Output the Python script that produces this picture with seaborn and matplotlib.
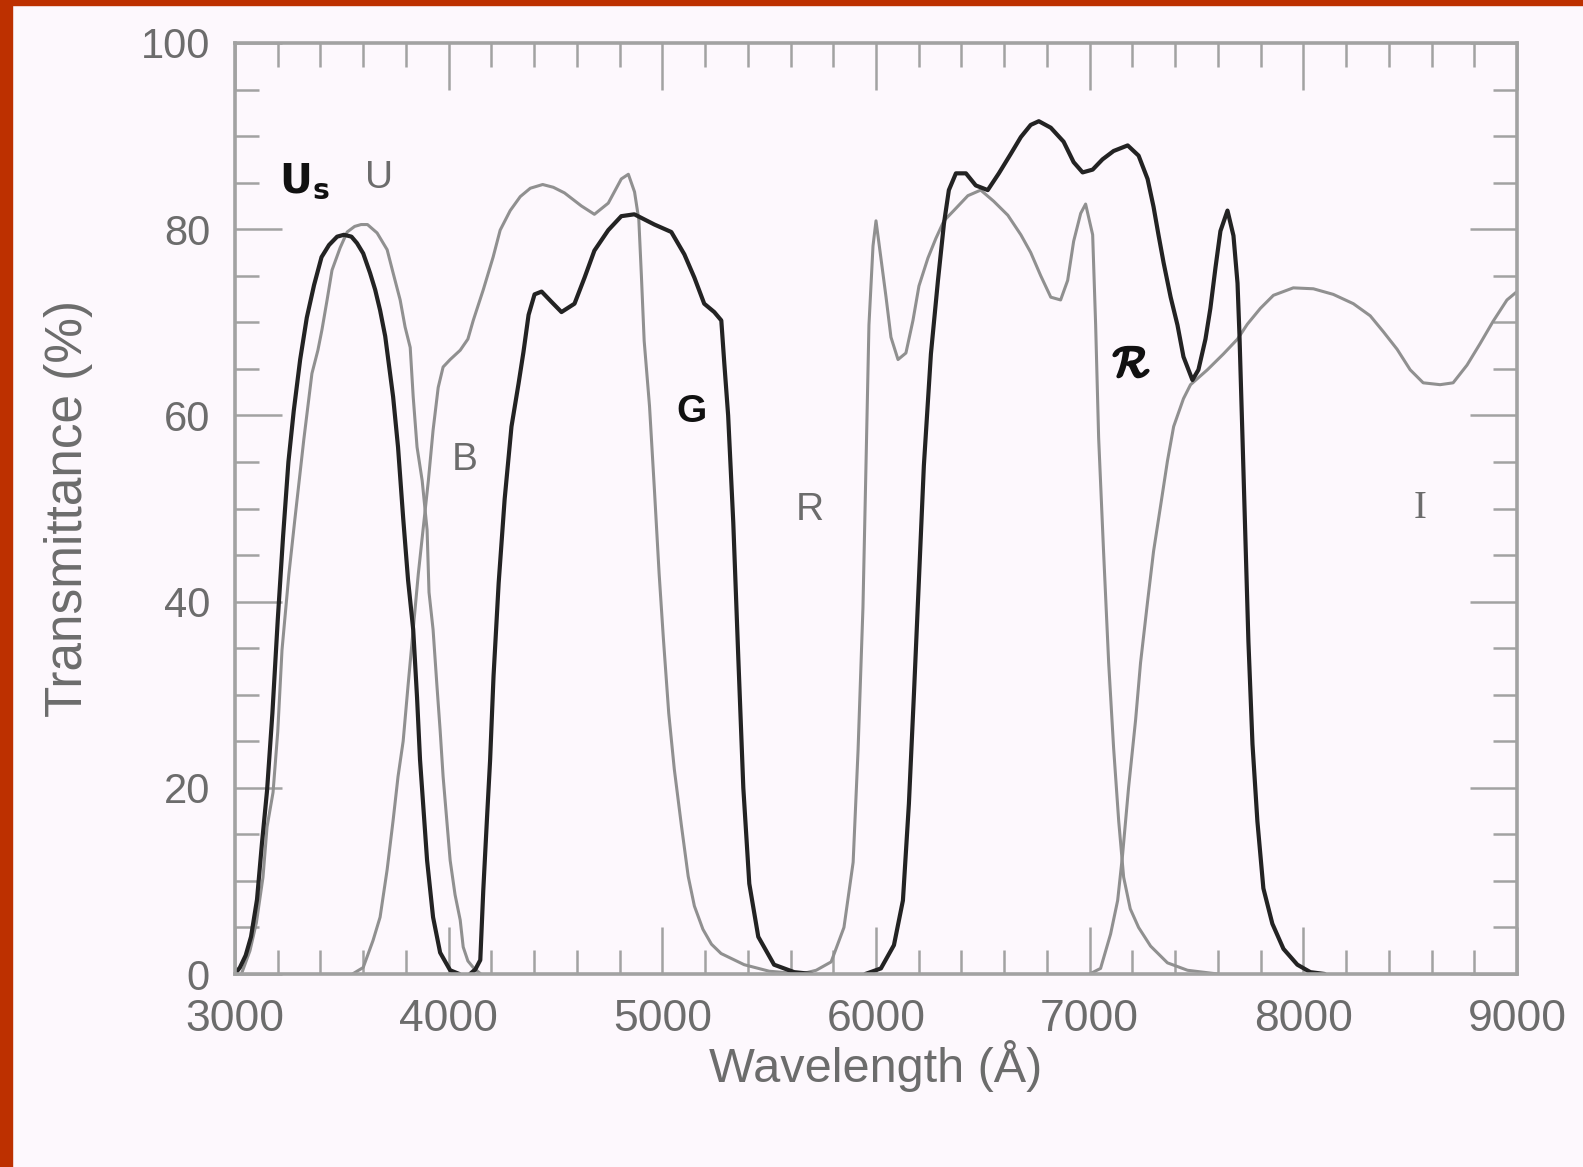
import matplotlib
matplotlib.use("Agg")
import matplotlib.pyplot as plt
import matplotlib.patheffects as pe
import seaborn as sns
import pandas as pd
from matplotlib.ticker import MultipleLocator
from matplotlib.patches import Rectangle

# ---------------- data ----------------
us_wl = [3000, 3023, 3050, 3075, 3103, 3126, 3150, 3175, 3200, 3225, 3250, 3275, 3305, 3336, 3370, 3405, 3440, 3478, 3510, 3545,
         3571, 3600, 3632, 3656, 3679, 3703, 3740, 3763, 3787, 3810, 3834, 3852, 3866, 3899, 3927, 3960, 4007, 4050]
us_tr = [0, 0.7, 2, 4, 8, 14, 19.7, 28, 38, 47, 55, 60.5, 66, 70.5, 74, 77, 78.3, 79.2, 79.4, 79.2,
         78.5, 77.4, 75.3, 73.5, 71.3, 68.5, 62, 56.6, 49, 42.3, 37, 29.7, 23, 12.2, 6.1, 2.3, 0.4, 0]

u_wl = [3030, 3070, 3100, 3131, 3150, 3178, 3200, 3220, 3252, 3280, 3322, 3360, 3388, 3407, 3431, 3454, 3492, 3525, 3560, 3590,
        3620, 3665, 3712, 3740, 3773, 3796, 3820, 3834, 3852, 3876, 3899, 3908, 3927, 3945, 3960, 3974, 4007, 4030, 4054, 4068,
        4090, 4115, 4150]
u_tr = [0, 2.5, 5.5, 10.4, 15.8, 19.5, 26, 34.8, 42.9, 48.8, 57.4, 64.5, 67, 69.2, 72.4, 75.6, 78, 79.7, 80.3, 80.5,
        80.5, 79.6, 77.8, 75.3, 72.4, 69.5, 67.3, 62, 56.6, 53, 47.7, 41, 37, 31, 26.2, 21.2, 12.2, 8.5, 5.8, 2.9,
        1.4, 0.7, 0]

b_wl = [3550, 3600, 3646, 3679, 3712, 3740, 3763, 3787, 3810, 3834, 3858, 3880, 3905, 3927, 3951, 3974, 4007, 4054, 4090, 4115,
        4162, 4208, 4241, 4288, 4335, 4382, 4440, 4490, 4542, 4621, 4682, 4747, 4808, 4841, 4870, 4890, 4902, 4915, 4940, 4963,
        4985, 5005, 5030, 5056, 5089, 5121, 5150, 5190, 5230, 5275, 5383, 5500, 5650]
b_tr = [0, 0.7, 3.6, 6.1, 11.2, 16.5, 21.2, 25, 31, 37, 43, 47.7, 53, 58.4, 63, 65.2, 66, 67, 68.2, 70.2,
        73.5, 77, 79.9, 82, 83.5, 84.4, 84.8, 84.5, 83.9, 82.5, 81.6, 82.8, 85.4, 85.9, 84, 81, 75, 68, 61, 52,
        43, 36, 28, 22, 16, 10.5, 7.3, 4.8, 3.2, 2.2, 1, 0.3, 0]

g_wl = [4100, 4125, 4148, 4162, 4180, 4194, 4210, 4234, 4262, 4294, 4327, 4350, 4374, 4402, 4435, 4481, 4528, 4589, 4636, 4682,
        4747, 4808, 4869, 4963, 5042, 5103, 5150, 5196, 5243, 5276, 5290, 5308, 5332, 5355, 5379, 5407, 5449, 5523, 5617, 5700]
g_tr = [0, 0.5, 1.5, 9, 17, 23, 32, 42, 51, 58.8, 63.4, 66.8, 70.8, 73, 73.3, 72.2, 71.1, 72, 74.8, 77.7,
        79.9, 81.4, 81.6, 80.5, 79.7, 77.3, 74.8, 72, 71.1, 70.2, 65.6, 60, 48.5, 34.3, 20, 9.7, 4, 1, 0.2, 0]

r_wl = [5650, 5720, 5790, 5850, 5893, 5916, 5939, 5953, 5967, 5986, 6000, 6023, 6047, 6070, 6103, 6140, 6173, 6201, 6243, 6280,
        6318, 6364, 6430, 6490, 6551, 6617, 6678, 6724, 6771, 6818, 6864, 6897, 6925, 6958, 6981, 7014, 7028, 7042, 7065, 7089,
        7112, 7136, 7159, 7190, 7229, 7285, 7364, 7458, 7600]
r_tr = [0, 0.4, 1.3, 5, 12, 24, 39.4, 54.5, 69.7, 78.2, 80.9, 76.9, 72.7, 68.4, 66, 66.7, 70.2, 73.9, 76.9, 79,
        80.9, 82, 83.6, 84.2, 83, 81.5, 79.4, 77.5, 75, 72.7, 72.4, 74.5, 78.7, 81.7, 82.7, 79.4, 69.7, 57.6, 45.4, 33.4,
        24.3, 16.4, 10.4, 7, 5, 3, 1.2, 0.4, 0]

rs_wl = [5950, 6023, 6084, 6126, 6154, 6178, 6201, 6224, 6257, 6290, 6318, 6341, 6374, 6421, 6467, 6523, 6575, 6631, 6678, 6724,
         6762, 6818, 6878, 6925, 6967, 7014, 7060, 7112, 7178, 7229, 7271, 7299, 7322, 7346, 7379, 7411, 7439, 7481, 7509, 7542,
         7565, 7589, 7612, 7645, 7673, 7692, 7701, 7715, 7729, 7743, 7762, 7785, 7813, 7855, 7907, 7972, 8033, 8100]
rs_tr = [0, 0.6, 3.1, 7.9, 18.3, 30.3, 42.4, 54.6, 66.6, 74.5, 80.6, 84.2, 86, 86, 84.7, 84.2, 86, 88.1, 89.9, 91.2,
         91.6, 90.9, 89.4, 87.2, 86.1, 86.4, 87.5, 88.4, 89, 87.9, 85.4, 82.4, 79.4, 76.4, 72.7, 69.7, 66.3, 63.8, 64.9, 68.2,
         71.5, 75.9, 79.8, 82, 79.3, 74.2, 68.7, 57.8, 46.7, 35.7, 24.7, 16.4, 9.2, 5.4, 2.7, 1, 0.2, 0]

i_wl = [7000, 7051, 7098, 7131, 7154, 7182, 7215, 7238, 7271, 7299, 7332, 7364, 7393, 7439, 7472, 7551, 7626, 7692, 7738, 7799,
        7860, 7953, 8047, 8140, 8234, 8313, 8374, 8439, 8500, 8561, 8640, 8701, 8766, 8827, 8888, 8953, 9000]
i_tr = [0, 0.6, 4.3, 7.9, 12.8, 20, 27.3, 33.4, 40, 45.4, 50.3, 55.1, 58.8, 61.8, 63.3, 64.9, 66.6, 68.2, 69.8, 71.5,
        72.9, 73.7, 73.6, 73, 72, 70.7, 69, 67.1, 64.9, 63.5, 63.3, 63.5, 65.4, 67.7, 70.1, 72.4, 73.3]

x_ticks = [3000, 4000, 5000, 6000, 7000, 8000, 9000]
y_ticks = [0, 20, 40, 60, 80, 100]

# ---------------- style ----------------
BG = "#fdf8fd"
GREY = "#909090"
BLACK = "#232323"
AXC = "#a2a2a2"
TXT = "#6c6c6c"

sns.set_theme(style="white", rc={"figure.facecolor": BG, "axes.facecolor": BG})
plt.rcParams["font.family"] = ["Liberation Sans", "DejaVu Sans"]

fig = plt.figure(figsize=(15.83, 11.67), dpi=100)
W, H = 1583, 1167
ax = fig.add_axes([235 / W, 1 - 974 / H, (1517 - 235) / W, (974 - 43) / H])

# red frame strips (left and top)
fig.patches.append(Rectangle((0, 0), 12 / W, 1, transform=fig.transFigure, color="#bd3000", zorder=0))
fig.patches.append(Rectangle((0, 1 - 5 / H), 1, 5 / H, transform=fig.transFigure, color="#bd3000", zorder=0))

grey_curves = [(u_wl, u_tr), (b_wl, b_tr), (r_wl, r_tr), (i_wl, i_tr)]
black_curves = [(us_wl, us_tr), (g_wl, g_tr), (rs_wl, rs_tr)]

for wl, tr in grey_curves:
    df = pd.DataFrame({"wl": wl, "tr": tr})
    sns.lineplot(data=df, x="wl", y="tr", ax=ax, color=GREY, linewidth=2.2, estimator=None, sort=False)
for wl, tr in black_curves:
    df = pd.DataFrame({"wl": wl, "tr": tr})
    sns.lineplot(data=df, x="wl", y="tr", ax=ax, color=BLACK, linewidth=3.0, estimator=None, sort=False)

ax.set_xlim(3000, 9000)
ax.set_ylim(0, 100)
ax.set_xticks(x_ticks)
ax.set_yticks(y_ticks)
ax.xaxis.set_minor_locator(MultipleLocator(200))
ax.yaxis.set_minor_locator(MultipleLocator(5))

for sp in ax.spines.values():
    sp.set_visible(True)
    sp.set_color(AXC)
    sp.set_linewidth(2.6)

ax.tick_params(which="both", direction="in", top=True, right=True, bottom=True, left=True, color=AXC)
ax.tick_params(which="major", length=34, width=1.8)
ax.tick_params(which="minor", length=17, width=1.8)
ax.tick_params(axis="x", which="major", labelsize=32, labelcolor=TXT, pad=18)
ax.tick_params(axis="y", which="major", labelsize=30, labelcolor=TXT, pad=18)

ax.set_xlabel("Wavelength (Å)", fontsize=35, color=TXT, labelpad=0)
ax.set_ylabel("Transmittance (%)", fontsize=37, color=TXT, labelpad=34)

# curve labels
ax.text(3206, 83.9, r"$\mathbf{U}_{\mathbf{s}}$", fontsize=29, color="#111111", ha="left", va="baseline")
ax.text(3674, 85.5, "U", fontsize=28, color=TXT, ha="center", va="center")
ax.text(4073, 55.2, "B", fontsize=28, color=TXT, ha="center", va="center")
ax.text(5136, 60.4, "G", fontsize=28, color="#111111", fontweight="bold", ha="center", va="center")
ax.text(5688, 49.8, "R", fontsize=28, color=TXT, ha="center", va="center")
ax.text(7196, 65.4, r"$\mathcal{R}$", fontsize=30, color="#111111", ha="center", va="center",
        math_fontfamily="cm", path_effects=[pe.withStroke(linewidth=2.2, foreground="#111111")])
ax.text(8546, 50.0, "I", fontsize=28, color=TXT, ha="center", va="center", family="Liberation Serif")

fig.savefig("out.png", dpi=100, facecolor=BG)
